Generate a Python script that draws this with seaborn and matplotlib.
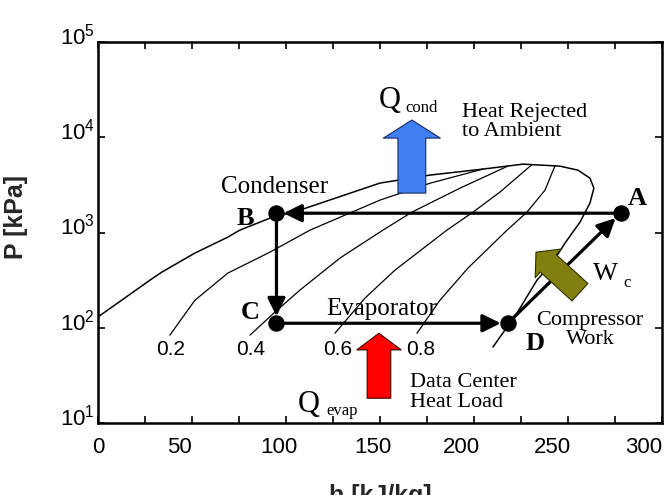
import seaborn as sns
import matplotlib.pyplot as plt
import matplotlib.transforms as mtransforms

# saturation dome, liquid side -> top -> vapour side (h in kJ/kg, P in kPa)
dome_h = [0, 27.7, 34.0, 51.6, 69.1, 75.5, 91.5, 107.4, 150.0, 176.6, 204.8, 226.1,
          245.7, 255.3, 261.7, 263.8, 261.7, 256.4, 248.4, 242.0, 233.5, 222.9, 210.1]
dome_p = [130, 317, 385, 610, 897, 1062, 1419, 1722, 3311, 4018, 4645, 5236,
          4989, 4529, 3733, 2931, 2042, 1288, 776, 490, 317, 143, 63]

# constant quality lines
q02_h = [38.3, 51.6, 69.1, 91.5, 112.8, 150.0, 176.6, 204.8]
q02_p = [84, 195, 376, 624, 1062, 2193, 3300, 4645]
q04_h = [80.9, 94.1, 107.4, 128.7, 151.6, 167.0, 192.6, 218.1]
q04_p = [84, 146, 249, 540, 1062, 1641, 2931, 5000]
q06_h = [126.1, 142.0, 158.0, 185.6, 199.5, 213.8, 230.9]
q06_p = [88, 205, 404, 1062, 1641, 2661, 5180]
q08_h = [169.7, 181.9, 196.8, 217.6, 228.2, 237.8, 243.1]
q08_p = [88, 195, 424, 1062, 1641, 2793, 5020]
quality_labels = ["0.2", "0.4", "0.6", "0.8"]

# refrigeration cycle states A -> B -> C -> D
states = ["A", "B", "C", "D"]
cycle_h = [278, 95, 95, 218]
cycle_p = [1600, 1600, 112, 112]

h_ticks = [0, 50, 100, 150, 200, 250, 300]
p_ticks = [10, 100, 1000, 10000, 100000]

sns.set_theme(style="ticks")
plt.rcParams["font.family"] = ["Liberation Sans", "DejaVu Sans"]
plt.rcParams["text.color"] = "black"
serif = ["Liberation Serif", "DejaVu Serif"]

fig, ax = plt.subplots(figsize=(6.7, 4.95), dpi=100)
fig.subplots_adjust(left=0.146, right=0.988, bottom=0.145, top=0.915)

sns.lineplot(x=dome_h, y=dome_p, sort=False, estimator=None, color="black", lw=1.1, ax=ax)
for qh, qp in [(q02_h, q02_p), (q04_h, q04_p), (q06_h, q06_p), (q08_h, q08_p)]:
    sns.lineplot(x=qh, y=qp, sort=False, estimator=None, color="black", lw=0.9, ax=ax)

ax.set_yscale("log")
ax.set_xlim(0, 300)
ax.set_ylim(10, 1e5)

# cycle arrows
for i in range(4):
    j = (i + 1) % 4
    ax.annotate("", xy=(cycle_h[j], cycle_p[j]), xytext=(cycle_h[i], cycle_p[i]),
                arrowprops=dict(arrowstyle="-|>,head_length=0.55,head_width=0.27",
                                mutation_scale=20, lw=2.3, color="black",
                                shrinkA=0, shrinkB=5))
sns.scatterplot(x=cycle_h, y=cycle_p, s=120, color="black", edgecolor="black",
                zorder=5, ax=ax, legend=False)

# heat / work block arrows
ax.annotate("", xy=(167, 15200), xytext=(167, 2600),
            arrowprops=dict(arrowstyle="simple,head_length=1.3,head_width=4.1,tail_width=2.0",
                            mutation_scale=10, fc="#3f7ff2", ec="#1a2a60", lw=0.8,
                            shrinkA=0, shrinkB=0))
ax.annotate("", xy=(149.5, 88), xytext=(149.5, 18.3),
            arrowprops=dict(arrowstyle="simple,head_length=1.2,head_width=3.2,tail_width=1.7",
                            mutation_scale=10, fc="#ff0000", ec="#400000", lw=0.8,
                            shrinkA=0, shrinkB=0))
ax.annotate("", xy=(233, 624), xytext=(256.4, 237),
            arrowprops=dict(arrowstyle="simple,head_length=1.2,head_width=2.8,tail_width=1.7",
                            mutation_scale=10, fc="#807f10", ec="#303000", lw=0.8,
                            shrinkA=0, shrinkB=0))

# state letters
for name, x, y in zip(states, [286.7, 78.7, 80.9, 232.4], [2300, 1420, 146, 69]):
    ax.text(x, y, name, family=serif, fontsize=19, fontweight="bold", ha="center", va="center")

# quality labels
for lab, x in zip(quality_labels, [38.8, 81.4, 127.7, 171.8]):
    ax.text(x, 59, lab, fontsize=15, ha="center", va="center")

ax.text(94.1, 2600, "Condenser", family=serif, fontsize=18, ha="center", va="baseline")
ax.text(151, 136, "Evaporator", family=serif, fontsize=18, ha="center", va="baseline")
ax.text(193.6, 14450, "Heat Rejected\nto Ambient", family=serif, fontsize=16,
        ha="left", va="center", linespacing=1.05)
ax.text(166, 21.1, "Data Center\nHeat Load", family=serif, fontsize=16,
        ha="left", va="center", linespacing=1.05)
ax.text(261.7, 94.6, "Compressor\nWork", family=serif, fontsize=16,
        ha="center", va="center", multialignment="center", linespacing=1.0)
ax.text(149.5, 20280, "Q", family=serif, fontsize=22, ha="left", va="baseline")
ax.text(163.8, 18400, "cond", family=serif, fontsize=12, ha="left", va="baseline")
ax.text(106.4, 13.0, "Q", family=serif, fontsize=22, ha="left", va="baseline")
ax.text(121.8, 12.1, "evap", family=serif, fontsize=12, ha="left", va="baseline")
ax.text(263.3, 317, "W", family=serif, fontsize=19, ha="left", va="baseline")
ax.text(279.3, 268, "c", family=serif, fontsize=12, ha="left", va="baseline")

ax.set_xticks(h_ticks)
ax.set_xticks(range(0, 301, 25), minor=True)
ax.set_yticks(p_ticks)
ax.yaxis.set_minor_locator(plt.NullLocator())
ax.tick_params(which="both", direction="in", top=True, right=True, length=5, width=1.2,
               labelsize=16, colors="black")
ax.tick_params(axis="y", pad=2)
ax.tick_params(axis="x", pad=10)
for s in ax.spines.values():
    s.set_linewidth(1.8)
    s.set_color("black")

ax.set_xlabel("h [kJ/kg]", fontsize=18, fontweight="bold")
ax.set_ylabel("P [kPa]", fontsize=18, fontweight="bold")
ax.xaxis.set_label_coords(0.5, -0.16)
ax.yaxis.set_label_coords(-0.124, 0.54)

# tick labels in the original sit a little off their ticks
fig.canvas.draw()
for lbl in ax.get_yticklabels():
    lbl.set_transform(lbl.get_transform() +
                      mtransforms.ScaledTranslation(0, 6 / 72, fig.dpi_scale_trans))
for lbl, dx in zip(ax.get_xticklabels(), [0, -9, -5, -5, -9, -11, -13]):
    lbl.set_transform(lbl.get_transform() +
                      mtransforms.ScaledTranslation(dx / 72, 0, fig.dpi_scale_trans))

fig.savefig("out.png", dpi=100)
